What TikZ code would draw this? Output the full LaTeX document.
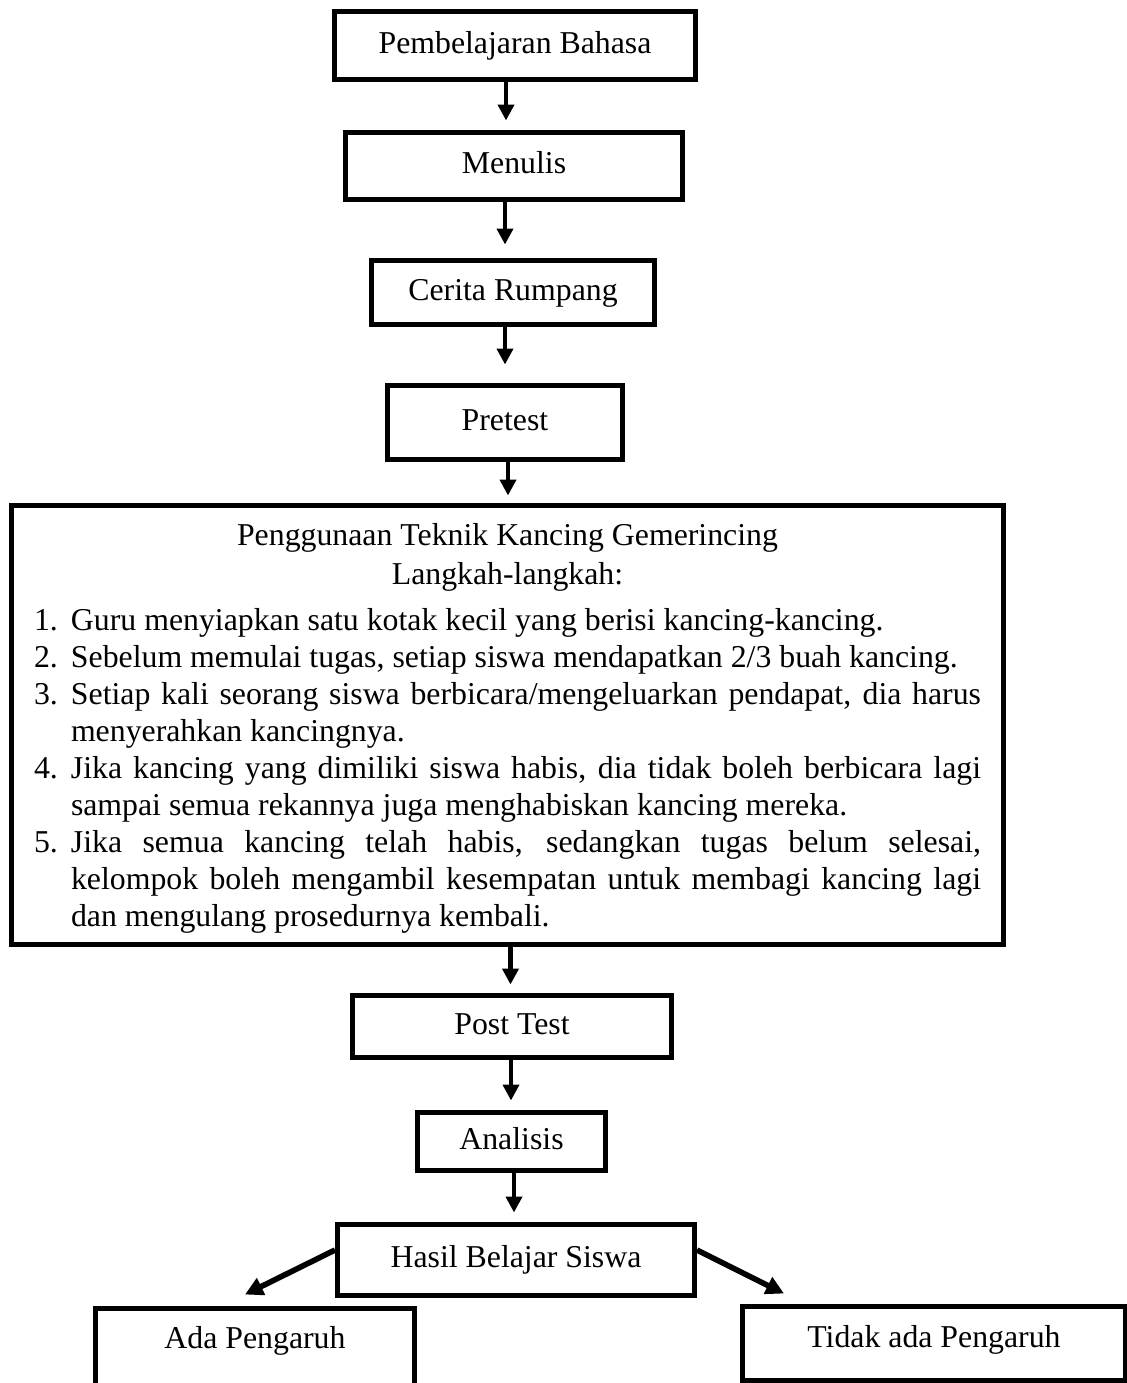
\documentclass[tikz,border=0pt]{standalone}
\usepackage{fontspec}
\setmainfont{Liberation Serif}
\usetikzlibrary{arrows.meta}

\newcommand{\butir}[1]{\noindent\hangindent=18.5pt\hangafter=1 \makebox[18.5pt][l]{#1}}

\begin{document}
\begin{tikzpicture}[x=0.5pt, y=-0.5pt, -{Triangle[length=8pt,width=8pt]}]
   \useasboundingbox (0,0) rectangle (1126,1383);
   \tikzstyle{garis}=[draw, line width=2.5pt, inner sep=0pt, font=\fontsize{15.9pt}{18.5pt}\selectfont]
   \tikzstyle{kotak}=[garis, text height=11.13pt, text depth=3.5pt]
   \tikzstyle{panah}=[line width=2.2pt]
   \tikzstyle{miring}=[line width=2.8pt, -{Triangle[length=9pt,width=9pt]}]
   \node[kotak, minimum width=180.5pt, minimum height=34pt] (judul) at (515,45.5) {Pembelajaran Bahasa};
   \node[kotak, minimum width=168.5pt, minimum height=33.5pt] (menulis) at (514,166) {Menulis};
   \node[kotak, minimum width=141.5pt, minimum height=32pt] (cerita) at (513,292.5) {Cerita Rumpang};
   \node[kotak, minimum width=117.5pt, minimum height=37pt] (pretest) at (505,422.5) {Pretest};
   \node[garis, text width=473.5pt, minimum width=496pt, minimum height=219.5pt, align=justify] (langkah) at (507.5,725) {%
      \parindent=0pt \hyphenpenalty=10000 \exhyphenpenalty=10000
      {\centering \rule{0pt}{14pt}Penggunaan Teknik Kancing Gemerincing\par\vspace{1pt} Langkah-langkah:\par}
      \vspace{4.5pt}
      \butir{1.}Guru menyiapkan satu kotak kecil yang berisi kancing-kancing.\par
      \butir{2.}Sebelum memulai tugas, setiap siswa mendapatkan 2/3 buah kancing.\par
      \butir{3.}Setiap kali seorang siswa berbicara/mengeluarkan pendapat, dia harus\linebreak menyerahkan kancingnya.\par
      \butir{4.}Jika kancing yang dimiliki siswa habis, dia tidak boleh berbicara lagi\linebreak sampai semua rekannya juga menghabiskan kancing mereka.\par
      \butir{5.}Jika semua kancing telah habis, sedangkan tugas belum selesai,\linebreak kelompok boleh mengambil kesempatan untuk membagi kancing lagi\linebreak dan mengulang prosedurnya kembali.\par};
   \node[kotak, minimum width=159.5pt, minimum height=31pt] (post) at (512,1026.5) {Post Test};
   \node[kotak, minimum width=94pt, minimum height=29pt] (analisis) at (511.5,1141.5) {Analisis};
   \node[kotak, minimum width=178.5pt, minimum height=35.5pt] (hasil) at (516,1260) {Hasil Belajar Siswa};
   \node[kotak, minimum width=159.5pt, minimum height=42pt, text depth=13.63pt] (ada) at (255,1350.5) {Ada Pengaruh};
   \node[kotak, minimum width=191.5pt, minimum height=37pt, text depth=7.63pt] (tidak) at (934,1343.5) {Tidak ada Pengaruh};
   \foreach \dari/\ke/\geser/\sisa in {judul/menulis/-4.5pt/4.75pt, menulis/cerita/-4.5pt/6.75pt, cerita/pretest/-4pt/9.25pt, pretest/langkah/1.5pt/3.75pt, langkah/post/1.5pt/4.25pt, post/analisis/-0.5pt/4.75pt, analisis/hasil/1.25pt/4.75pt}
      \path ([xshift=\geser]\dari.south) edge[panah, shorten >=\sisa] ([xshift=\geser]\dari.south |- \ke.north);
   \path ([yshift=5pt]hasil.west) edge[miring] ([xshift=-5pt,yshift=5.75pt]ada.north);
   \path ([yshift=5pt]hasil.east) edge[miring] ([xshift=-75pt,yshift=5.25pt]tidak.north);
\end{tikzpicture}
\end{document}
